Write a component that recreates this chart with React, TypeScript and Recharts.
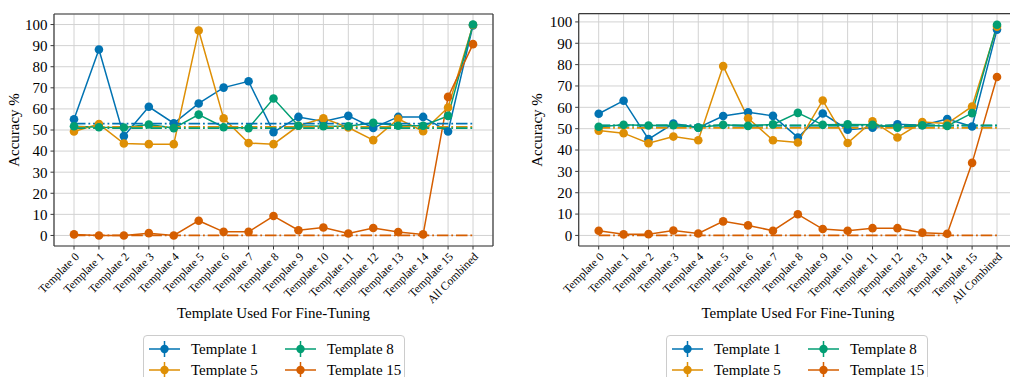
import React from 'react';
import { LineChart, Line, XAxis, YAxis, CartesianGrid, ReferenceLine, Legend } from 'recharts';

// ---------- data ----------
const categories = [
  'Template 0', 'Template 1', 'Template 2', 'Template 3', 'Template 4', 'Template 5',
  'Template 6', 'Template 7', 'Template 8', 'Template 9', 'Template 10', 'Template 11',
  'Template 12', 'Template 13', 'Template 14', 'Template 15', 'All Combined',
];

const seriesNames = ['Template 1', 'Template 5', 'Template 8', 'Template 15'];

// left panel
const leftT1 = [55.1, 88.2, 47.1, 61.0, 53.2, 62.6, 70.1, 73.1, 49.0, 56.2, 54.0, 56.7, 51.0, 56.2, 56.2, 49.3, 99.6];
const leftT5 = [49.3, 52.8, 43.6, 43.3, 43.3, 97.2, 55.5, 43.8, 43.3, 52.0, 55.5, 51.2, 45.2, 55.3, 49.4, 60.7, 99.8];
const leftT8 = [51.8, 51.3, 51.2, 52.6, 50.9, 57.3, 51.3, 50.9, 64.9, 52.0, 51.8, 51.8, 53.4, 52.0, 52.0, 56.7, 100.0];
const leftT15 = [0.5, 0.0, 0.0, 1.1, 0.0, 7.0, 1.7, 1.7, 9.2, 2.5, 3.8, 0.9, 3.5, 1.6, 0.5, 65.7, 90.7];
const leftBaselines = [53.0, 51.5, 50.9, 0.0];

// right panel
const rightT1 = [57.0, 63.1, 45.1, 52.4, 50.5, 55.9, 57.7, 56.0, 45.9, 57.1, 49.5, 50.4, 52.1, 51.6, 54.5, 51.0, 96.4];
const rightT5 = [49.1, 47.9, 43.2, 46.3, 44.6, 79.3, 54.9, 44.6, 43.5, 63.2, 43.3, 53.5, 45.9, 53.1, 52.4, 60.4, 97.8];
const rightT8 = [50.9, 51.8, 51.5, 51.6, 50.5, 51.8, 51.3, 52.0, 57.4, 51.8, 52.0, 51.8, 50.5, 51.6, 51.3, 57.3, 98.7];
const rightT15 = [2.2, 0.5, 0.6, 2.3, 0.9, 6.6, 4.7, 2.2, 9.9, 3.0, 2.2, 3.4, 3.4, 1.3, 0.8, 34.0, 74.2];
const rightBaselines = [51.4, 50.4, 51.5, 0.0];

const yTicks = [0, 10, 20, 30, 40, 50, 60, 70, 80, 90, 100];

// ---------- styles ----------
const FONT = '"Liberation Serif", "Times New Roman", Times, serif';
const COLORS = ['#0173B2', '#DE8F05', '#029E73', '#D55E00'];
const KEYS = ['s1', 's5', 's8', 's15'];
const SPINE = '#3a3a3a';
const GRID = '#d2d2d2';

function buildRows(a: number[], b: number[], c: number[], d: number[]) {
  return categories.map((cat, i) => ({ cat, s1: a[i], s5: b[i], s8: c[i], s15: d[i] }));
}

const XTick = (props: any) => {
  const { x, y, payload } = props;
  return (
    <g transform={`translate(${x + 3},${y + 3})`}>
      <text
        transform="rotate(-45)"
        textAnchor="end"
        dy="0.35em"
        fontFamily={FONT}
        fontSize={11.6}
        fill="#000"
      >
        {payload.value}
      </text>
    </g>
  );
};

const LegendContent = (props: any) => {
  const payload = (props.payload || []) as any[];
  const items = seriesNames.map((n) => payload.find((p) => p.value === n)).filter(Boolean);
  return (
    <div
      style={{
        border: '1px solid #cccccc',
        borderRadius: 4,
        background: '#fff',
        padding: '3px 6px 8px 5px',
        display: 'grid',
        gridTemplateRows: 'repeat(2, 20.7px)',
        gridTemplateColumns: '136px auto',
        gridAutoFlow: 'column',
        boxSizing: 'border-box',
        width: 262,
        fontFamily: FONT,
        fontSize: 15,
        color: '#000',
      }}
    >
      {items.map((p: any) => (
        <div key={p.value} style={{ display: 'flex', alignItems: 'center', height: 20.7 }}>
          <svg width={31} height={20} style={{ marginRight: 11, flex: 'none' }}>
            <line x1={0} y1={10} x2={31} y2={10} stroke={p.color} strokeWidth={1.5} />
            <line x1={15.5} y1={2} x2={15.5} y2={18} stroke={p.color} strokeWidth={1.5} />
            <circle cx={15.5} cy={10} r={4.2} fill={p.color} />
          </svg>
          <span style={{ whiteSpace: 'nowrap', lineHeight: '20px' }}>{p.value}</span>
        </div>
      ))}
    </div>
  );
};

type PanelProps = {
  left: number;
  width: number;
  margin: { top: number; right: number; bottom: number; left: number };
  rows: any[];
  baselines: number[];
  domain: [number, number];
  legendLeft: number;
  yLabelX: number;
  xLabelX: number;
};

const Panel = ({ left, width, margin, rows, baselines, domain, legendLeft, yLabelX, xLabelX }: PanelProps) => (
  <div style={{ position: 'absolute', left, top: 0, width, height: 377 }}>
    <LineChart width={width} height={377} data={rows} margin={margin}>
      <CartesianGrid stroke={GRID} strokeWidth={1} />
      <XAxis
        dataKey="cat"
        type="category"
        interval={0}
        height={80}
        padding={{ left: 20, right: 20 }}
        tick={<XTick />}
        tickSize={3.5}
        tickMargin={2}
        axisLine={{ stroke: SPINE, strokeWidth: 1.2 }}
        tickLine={{ stroke: SPINE, strokeWidth: 1 }}
      />
      <XAxis
        xAxisId="top"
        orientation="top"
        dataKey="cat"
        height={1}
        tick={false}
        tickLine={false}
        axisLine={{ stroke: SPINE, strokeWidth: 1.2 }}
      />
      <YAxis
        type="number"
        domain={domain}
        ticks={yTicks}
        width={40}
        interval={0}
        allowDataOverflow
        tickSize={3.5}
        tickMargin={3}
        tick={{ fontFamily: FONT, fontSize: 15, fill: '#000' }}
        axisLine={{ stroke: SPINE, strokeWidth: 1.2 }}
        tickLine={{ stroke: SPINE, strokeWidth: 1 }}
      />
      <YAxis
        yAxisId="right"
        orientation="right"
        type="number"
        domain={domain}
        allowDataOverflow
        width={1}
        tick={false}
        tickLine={false}
        axisLine={{ stroke: SPINE, strokeWidth: 1.2 }}
      />
      {KEYS.map((k, i) => (
        <Line
          key={k}
          dataKey={k}
          name={seriesNames[i]}
          stroke={COLORS[i]}
          strokeWidth={1.5}
          dot={{ r: 4.3, fill: COLORS[i], stroke: COLORS[i], strokeWidth: 0 }}
          activeDot={false}
          isAnimationActive={false}
        />
      ))}
      {baselines.map((b, i) => (
        <ReferenceLine
          key={'b' + i}
          segment={[
            { x: categories[0], y: b },
            { x: categories[categories.length - 1], y: b },
          ]}
          stroke={COLORS[i]}
          strokeWidth={1.8}
          strokeDasharray="11.5 2.9 1.8 2.9"
        />
      ))}
      <Legend
        layout="horizontal"
        verticalAlign="middle"
        align="center"
        content={<LegendContent />}
        wrapperStyle={{ position: 'absolute', left: legendLeft, top: 335, width: 262, height: 50 }}
      />
    </LineChart>
    <div
      style={{
        position: 'absolute',
        left: yLabelX,
        top: 130,
        transform: 'translate(-50%, -50%) rotate(-90deg)',
        fontFamily: FONT,
        fontSize: 15,
        whiteSpace: 'nowrap',
        color: '#000',
      }}
    >
      Accuracy %
    </div>
    <div
      style={{
        position: 'absolute',
        left: xLabelX,
        top: 312.5,
        transform: 'translate(-50%, -50%)',
        fontFamily: FONT,
        fontSize: 15,
        whiteSpace: 'nowrap',
        color: '#000',
      }}
    >
      Template Used For Fine-Tuning
    </div>
  </div>
);

export default function App() {
  const leftRows = buildRows(leftT1, leftT5, leftT8, leftT15);
  const rightRows = buildRows(rightT1, rightT5, rightT8, rightT15);
  return (
    <div
      style={{
        position: 'fixed',
        left: 0,
        top: 0,
        width: 1010,
        height: 377,
        overflow: 'hidden',
        background: '#fff',
      }}
    >
      <Panel
        left={0}
        width={510}
        margin={{ top: 13, right: 16, bottom: 51, left: 14 }}
        rows={leftRows}
        baselines={leftBaselines}
        domain={[-5, 105]}
        legendLeft={143}
        yLabelX={13.5}
        xLabelX={273.5}
      />
      <Panel
        left={510}
        width={520}
        margin={{ top: 12.7, right: 12, bottom: 51, left: 28.7 }}
        rows={rightRows}
        baselines={rightBaselines}
        domain={[-4.95, 103.85]}
        legendLeft={156}
        yLabelX={27}
        xLabelX={288}
      />
    </div>
  );
}
